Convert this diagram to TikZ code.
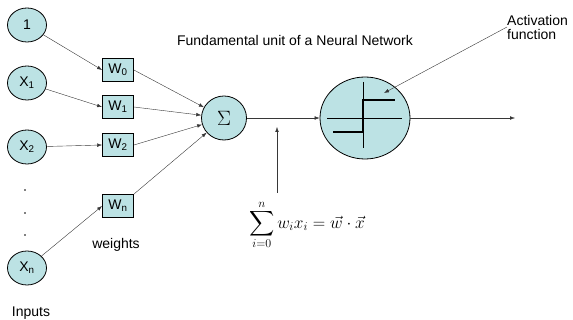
\documentclass[tikz,border=0pt]{standalone}
\usepackage{graphicx}
\usepackage{fontspec}
\setmainfont{Liberation Sans}
\usetikzlibrary{shapes,arrows.meta,calc,positioning}
\definecolor{cellfill}{RGB}{188,226,228}
\definecolor{wire}{RGB}{55,55,55}
\newcommand{\bigsum}{\mathop{\vcenter{\hbox{\scalebox{1.75}{$\displaystyle\sum$}}}}\limits}
\tikzset{
    -{Latex[length=5pt,width=3.6pt]},line width=0.6pt,
    every edge/.append style={draw=wire},
    unit/.style ={ellipse, draw, fill=cellfill, line width=0.8pt, minimum width=39pt, minimum height=34pt, inner sep=0pt, font=\fontsize{14}{16}\selectfont},
    weight/.style ={rectangle, draw, fill=cellfill, line width=0.8pt, minimum width=31pt, minimum height=23pt, inner sep=0pt, font=\fontsize{14}{16}\selectfont},
    dotmark/.style = {circle, fill, inner sep=0pt, minimum size=1.6pt, node contents={}},
    lbl/.style = {inner sep=0pt, align=left, font=\fontsize{14}{14}\selectfont},
}

\begin{document}
\begin{tikzpicture}[x=1pt,y=-1pt]
\useasboundingbox (0,0) rectangle (573,320);

    % inputs
    \node[unit] (one) at (27,25) {1};
    \node[unit] (x1) at (27,83) {X\textsubscript{1}};
    \node[unit] (x2) at (27,147) {X\textsubscript{2}};
    \node[unit] (xn) at (27,268) {X\textsubscript{n}};
    \node (d1) at (25,190) [dotmark];
    \node (d2) at (25,213) [dotmark];
    \node (d3) at (25,235) [dotmark];
    \node[lbl] (inputs) at (31,313) {Inputs};

    % weights
    \node[weight] (w0) at (118,70) {W\textsubscript{0}};
    \node[weight] (w1) at (118,107) {W\textsubscript{1}};
    \node[weight] (w2) at (118,145) {W\textsubscript{2}};
    \node[weight] (wn) at (118,206) {W\textsubscript{n}};
    \node[lbl] (weights) at (116,245) {weights};

    % summation and activation
    \node[unit, minimum width=45pt, minimum height=44pt, font=\fontsize{21}{21}\selectfont] (sum) at (224,118) {$\Sigma$};
    \node[unit, minimum width=90pt, minimum height=82pt] (act) at (365,118) {};
    \coordinate (out) at (515,118);
    \draw[-, line width=0.8pt] ($(act)+(-38,0)$) -- ($(act)+(37,0)$);
    \draw[-, line width=0.8pt] ($(act)+(-2,-36)$) -- ($(act)+(-2,30)$);
    \draw[-, line width=2.4pt] ($(act)+(-32,14)$) -- ($(act)+(-2,14)$) -- ($(act)+(-2,-18)$) -- ($(act)+(30,-18)$);

    % labels
    \node[lbl] (title) at (295,40) {Fundamental unit of a Neural Network};
    \node[lbl, anchor=west] (actlbl) at (507,27) {Activation\\function};
    \coordinate (acttip) at (384,93);
    \node (formula) at (307,225) {\fontsize{17}{20}\selectfont$\displaystyle\bigsum_{i=0}^{n} w_i x_i = \vec{w}\cdot\vec{x}$};
    \coordinate (tap) at (277,127);
    \coordinate (tapfoot) at (277,193);

    % directed edges
    \path (one) edge (w0.west);
    \path (x1) edge (w1.west);
    \path (x2) edge (w2.west);
    \path (xn) edge (wn.west);
    \path (w0.east) edge (sum);
    \path (w1.east) edge (sum);
    \path (w2.east) edge (sum);
    \path (wn.north east) edge (sum);
    \path (sum) edge (act);
    \path (act) edge (out);
    \path (tapfoot) edge (tap);
    \path (actlbl.west) edge (acttip);

\end{tikzpicture}
\end{document}
